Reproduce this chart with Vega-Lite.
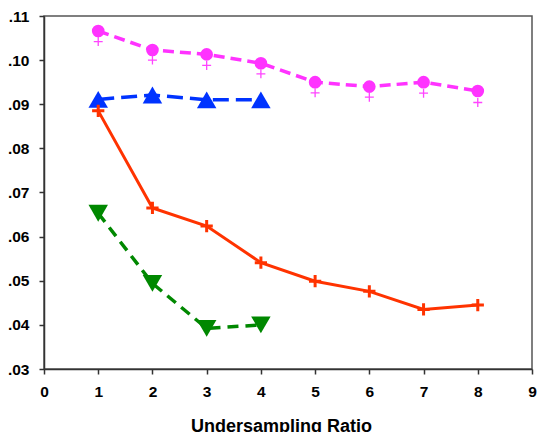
{
  "$schema": "https://vega.github.io/schema/vega-lite/v6.json",
  "width": 488,
  "height": 353,
  "autosize": {"type": "none"},
  "padding": {"left": 44, "top": 16, "right": 5, "bottom": 63},
  "background": "white",
  "config": {
    "view": {"stroke": "#555555", "strokeWidth": 1.5},
    "axis": {
      "grid": false,
      "domainColor": "#333333",
      "domainWidth": 1.5,
      "tickColor": "#333333",
      "tickWidth": 1.5,
      "tickSize": 5,
      "labelFont": "Liberation Sans",
      "labelFontWeight": "bold",
      "labelFontSize": 15.5,
      "labelColor": "#000000",
      "titleFont": "Liberation Sans",
      "titleFontWeight": "bold",
      "titleFontSize": 18,
      "titleColor": "#000000"
    }
  },
  "data": {
    "values": [
      {"series": "magenta", "x": 1, "y": 0.1066},
      {"series": "magenta", "x": 2, "y": 0.1023},
      {"series": "magenta", "x": 3, "y": 0.1013},
      {"series": "magenta", "x": 4, "y": 0.0993},
      {"series": "magenta", "x": 5, "y": 0.0950},
      {"series": "magenta", "x": 6, "y": 0.0940},
      {"series": "magenta", "x": 7, "y": 0.0950},
      {"series": "magenta", "x": 8, "y": 0.0930},
      {"series": "magentaPlus", "x": 1, "y": 0.1042},
      {"series": "magentaPlus", "x": 2, "y": 0.1000},
      {"series": "magentaPlus", "x": 3, "y": 0.0988},
      {"series": "magentaPlus", "x": 4, "y": 0.0969},
      {"series": "magentaPlus", "x": 5, "y": 0.0926},
      {"series": "magentaPlus", "x": 6, "y": 0.0916},
      {"series": "magentaPlus", "x": 7, "y": 0.0925},
      {"series": "magentaPlus", "x": 8, "y": 0.0904},
      {"series": "blue", "x": 1, "y": 0.0911},
      {"series": "blue", "x": 2, "y": 0.0921},
      {"series": "blue", "x": 3, "y": 0.0910},
      {"series": "blue", "x": 4, "y": 0.0910},
      {"series": "red", "x": 1, "y": 0.0885},
      {"series": "red", "x": 2, "y": 0.0665},
      {"series": "red", "x": 3, "y": 0.0624},
      {"series": "red", "x": 4, "y": 0.0541},
      {"series": "red", "x": 5, "y": 0.0499},
      {"series": "red", "x": 6, "y": 0.0476},
      {"series": "red", "x": 7, "y": 0.0435},
      {"series": "red", "x": 8, "y": 0.0445},
      {"series": "green", "x": 1, "y": 0.0653},
      {"series": "green", "x": 2, "y": 0.0494},
      {"series": "green", "x": 3, "y": 0.0392},
      {"series": "green", "x": 4, "y": 0.0400}
    ]
  },
  "encoding": {
    "x": {
      "field": "x", "type": "quantitative",
      "scale": {"domain": [0, 9], "nice": false, "zero": false},
      "axis": {"values": [0,1,2,3,4,5,6,7,8,9], "labelPadding": 10, "title": "Undersampling Ratio", "titlePadding": 18, "titleX": 237, "labelFlush": false}
    },
    "y": {
      "field": "y", "type": "quantitative",
      "scale": {"domain": [0.03, 0.11], "nice": false, "zero": false},
      "axis": {"values": [0.03,0.04,0.05,0.06,0.07,0.08,0.09,0.10,0.11], "labelExpr": "substring(format(datum.value, '.2f'), 1)", "labelPadding": 10, "title": null, "labelFlush": false}
    }
  },
  "layer": [
    {
      "transform": [{"filter": "datum.series === 'magenta'"}],
      "mark": {"type": "line", "color": "#ff33ff", "strokeWidth": 3.5, "strokeDash": [11, 6]}
    },
    {
      "transform": [{"filter": "datum.series === 'magenta'"}],
      "mark": {"type": "point", "shape": "circle", "filled": true, "color": "#ff33ff", "size": 160, "opacity": 1}
    },
    {
      "transform": [{"filter": "datum.series === 'magentaPlus'"}],
      "mark": {"type": "point", "shape": "M-1,0H1M0,-1V1", "filled": false, "color": "#ff44ff", "size": 80, "strokeWidth": 1.3, "opacity": 1}
    },
    {
      "transform": [{"filter": "datum.series === 'blue'"}],
      "mark": {"type": "line", "color": "#0033ff", "strokeWidth": 3.5, "strokeDash": [16, 7]}
    },
    {
      "transform": [{"filter": "datum.series === 'blue'"}],
      "mark": {"type": "point", "shape": "triangle-up", "filled": true, "color": "#0033ff", "size": 380, "opacity": 1}
    },
    {
      "transform": [{"filter": "datum.series === 'red'"}],
      "mark": {"type": "line", "color": "#ff3300", "strokeWidth": 3}
    },
    {
      "transform": [{"filter": "datum.series === 'red'"}],
      "mark": {"type": "point", "shape": "M-1,0H1M0,-1V1", "filled": false, "color": "#ff3300", "size": 150, "strokeWidth": 3, "opacity": 1}
    },
    {
      "transform": [{"filter": "datum.series === 'green'"}],
      "mark": {"type": "line", "color": "#008800", "strokeWidth": 3.5, "strokeDash": [11, 7]}
    },
    {
      "transform": [{"filter": "datum.series === 'green'"}],
      "mark": {"type": "point", "shape": "triangle-down", "filled": true, "color": "#008800", "size": 380, "opacity": 1}
    }
  ]
}
